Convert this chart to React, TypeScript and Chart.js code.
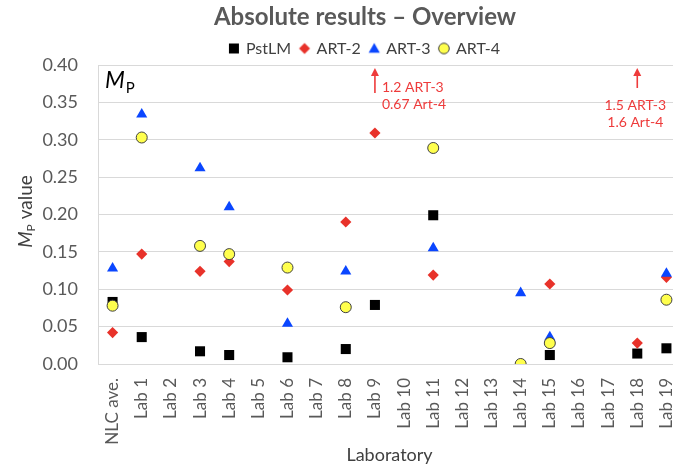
import React, { useEffect, useRef } from 'react';
import { Chart, registerables } from 'chart.js';

Chart.register(...registerables);

const FONT = 'Lato, "Open Sans", sans-serif';

const titleText = 'Absolute results – Overview';
const xTitle = 'Laboratory';
const yTitleParts = ['M', 'P', ' value'];
const cornerLabelParts = ['M', 'P'];

const categories = [
  'NLC ave.', 'Lab 1', 'Lab 2', 'Lab 3', 'Lab 4', 'Lab 5', 'Lab 6', 'Lab 7', 'Lab 8', 'Lab 9',
  'Lab 10', 'Lab 11', 'Lab 12', 'Lab 13', 'Lab 14', 'Lab 15', 'Lab 16', 'Lab 17', 'Lab 18', 'Lab 19',
];

const seriesNames = ['PstLM', 'ART-2', 'ART-3', 'ART-4'];

const pstlm = [0.083, 0.036, null, 0.017, 0.012, null, 0.009, null, 0.020, 0.079, null, 0.199, null, null, null, 0.012, null, null, 0.014, 0.021];
const art2 = [0.042, 0.147, null, 0.124, 0.137, null, 0.099, null, 0.190, 0.309, null, 0.119, null, null, null, 0.107, null, null, 0.028, 0.116];
const art3 = [0.128, 0.334, null, 0.262, 0.210, null, 0.054, null, 0.124, 1.2, null, 0.155, null, null, 0.095, 0.036, null, null, 1.5, 0.121];
const art4 = [0.078, 0.303, null, 0.158, 0.147, null, 0.129, null, 0.076, 0.67, null, 0.289, null, null, 0.0, 0.028, null, null, 1.6, 0.086];

const yTicks = [0, 0.05, 0.1, 0.15, 0.2, 0.25, 0.3, 0.35, 0.4];

const annotCategories = ['Lab 9', 'Lab 18'];
const annotLines = [
  ['1.2 ART-3', '0.67 Art-4'],
  ['1.5 ART-3', '1.6 Art-4'],
];

const RED = '#E8322A';
const BLUE = '#0A46FF';
const YELLOW = '#FFFF4D';
const ANNOT = '#EE3B3B';

function makeMarker(kind: string): HTMLCanvasElement {
  const c = document.createElement('canvas');
  c.width = 14;
  c.height = 14;
  const g = c.getContext('2d')!;
  const cx = 7, cy = 7;
  g.beginPath();
  if (kind === 'rect') {
    g.fillStyle = '#000';
    g.fillRect(2, 2, 10, 10);
  } else if (kind === 'diamond') {
    g.fillStyle = RED;
    g.moveTo(cx, cy - 5.5); g.lineTo(cx + 5.5, cy); g.lineTo(cx, cy + 5.5); g.lineTo(cx - 5.5, cy);
    g.closePath(); g.fill();
  } else if (kind === 'triangle') {
    g.fillStyle = BLUE;
    g.moveTo(cx, cy - 5.5); g.lineTo(cx + 5.6, cy + 4.2); g.lineTo(cx - 5.6, cy + 4.2);
    g.closePath(); g.fill();
  } else {
    g.fillStyle = YELLOW;
    g.strokeStyle = '#404040';
    g.lineWidth = 1;
    g.arc(cx, cy, 5.3, 0, Math.PI * 2);
    g.fill(); g.stroke();
  }
  return c;
}

const legendNudge = {
  id: 'legendNudge',
  afterLayout(chart: any) {
    if (chart.legend) {
      chart.legend.top += 1.5;
      chart.legend.bottom += 1.5;
    }
  },
};

const extraText = {
  id: 'extraText',
  afterDraw(chart: any) {
    const { ctx, chartArea, scales } = chart;
    ctx.save();
    // y-axis title, rotated
    const midY = (chartArea.top + chartArea.bottom) / 2 - 3;
    ctx.translate(32, midY);
    ctx.rotate(-Math.PI / 2);
    ctx.textBaseline = 'alphabetic';
    ctx.textAlign = 'left';
    ctx.fillStyle = '#404040';
    const fM = `italic 19px ${FONT}`;
    const fP = `12px ${FONT}`;
    const fV = `19px ${FONT}`;
    ctx.font = fM; const wM = ctx.measureText(yTitleParts[0]).width;
    ctx.font = fP; const wP = ctx.measureText(yTitleParts[1]).width;
    ctx.font = fV; const wV = ctx.measureText(yTitleParts[2]).width;
    let x0 = -(wM + wP + wV) / 2;
    ctx.font = fM; ctx.fillText(yTitleParts[0], x0, 0); x0 += wM;
    ctx.font = fP; ctx.fillText(yTitleParts[1], x0, 3); x0 += wP;
    ctx.font = fV; ctx.fillText(yTitleParts[2], x0, 0);
    ctx.restore();

    // corner label
    ctx.save();
    ctx.fillStyle = '#000';
    ctx.textBaseline = 'alphabetic';
    ctx.textAlign = 'left';
    ctx.font = `italic 23px ${FONT}`;
    const cx = chartArea.left + 7;
    ctx.fillText(cornerLabelParts[0], cx, chartArea.top + 23);
    const wm = ctx.measureText(cornerLabelParts[0]).width;
    ctx.font = `15px ${FONT}`;
    ctx.fillText(cornerLabelParts[1], cx + wm + 1, chartArea.top + 28);
    ctx.restore();

    // off-scale annotations
    annotCategories.forEach((cat, i) => {
      const x = scales.x.getPixelForValue(categories.indexOf(cat));
      const right = i === 0;
      const arrowTop = chartArea.top + 3;
      const arrowBottom = right ? chartArea.top + 28 : chartArea.top + 23;
      ctx.save();
      ctx.strokeStyle = ANNOT;
      ctx.fillStyle = ANNOT;
      ctx.lineWidth = 1.6;
      ctx.beginPath();
      ctx.moveTo(x, arrowBottom);
      ctx.lineTo(x, arrowTop + 5);
      ctx.stroke();
      ctx.beginPath();
      ctx.moveTo(x, arrowTop);
      ctx.lineTo(x + 4, arrowTop + 8);
      ctx.lineTo(x - 4, arrowTop + 8);
      ctx.closePath();
      ctx.fill();
      ctx.font = `14px ${FONT}`;
      ctx.textBaseline = 'middle';
      const lines = annotLines[i];
      lines.forEach((ln, k) => {
        if (right) {
          ctx.textAlign = 'left';
          ctx.fillText(ln, x + 7, chartArea.top + 22 + k * 17.5);
        } else {
          ctx.textAlign = 'center';
          ctx.fillText(ln, x - 2, chartArea.top + 40 + k * 17.5);
        }
      });
      ctx.restore();
    });
  },
};

export default function App() {
  const ref = useRef<HTMLCanvasElement | null>(null);

  useEffect(() => {
    const canvas = ref.current;
    if (!canvas) return;
    const markers = [makeMarker('rect'), makeMarker('diamond'), makeMarker('triangle'), makeMarker('circle')];
    const chart = new Chart(canvas, {
      type: 'line',
      data: {
        labels: categories,
        datasets: [
          {
            label: seriesNames[0], data: pstlm, showLine: false, order: 4,
            pointStyle: 'rect', pointRadius: 7.1, pointHoverRadius: 7.1,
            backgroundColor: '#000000', borderColor: '#000000', borderWidth: 0,
          },
          {
            label: seriesNames[1], data: art2, showLine: false, order: 3,
            pointStyle: 'rectRot', pointRadius: 5.6, pointHoverRadius: 5.6,
            backgroundColor: RED, borderColor: RED, borderWidth: 0,
          },
          {
            label: seriesNames[2], data: art3, showLine: false, order: 2,
            pointStyle: 'triangle', pointRadius: 6.4, pointHoverRadius: 6.4,
            backgroundColor: BLUE, borderColor: BLUE, borderWidth: 0,
          },
          {
            label: seriesNames[3], data: art4, showLine: false, order: 1,
            pointStyle: 'circle', pointRadius: 5.5, pointHoverRadius: 5.5,
            backgroundColor: YELLOW, borderColor: '#404040', borderWidth: 1,
          },
        ],
      },
      options: {
        responsive: false,
        animation: false,
        events: [],
        layout: { padding: 0 },
        plugins: {
          title: {
            display: true,
            text: titleText,
            color: '#595959',
            font: { family: FONT, size: 24, weight: 'bold', lineHeight: 1 },
            padding: { top: 5.5, bottom: 0 },
          },
          legend: {
            display: true,
            position: 'top',
            labels: {
              usePointStyle: true,
              boxWidth: 8,
              boxHeight: 10,
              padding: 9.5,
              color: '#404040',
              font: { family: FONT, size: 16 },
              sort: (a: any, b: any) => a.datasetIndex - b.datasetIndex,
              generateLabels: (ch: any) => {
                const items = Chart.defaults.plugins.legend.labels.generateLabels(ch);
                items.forEach((it: any) => { it.pointStyle = markers[it.datasetIndex]; });
                return items;
              },
            },
          },
          tooltip: { enabled: false },
        },
        scales: {
          x: {
            type: 'category',
            offset: true,
            grid: { display: false, drawTicks: false },
            border: { display: true, color: '#D9D9D9' },
            ticks: {
              autoSkip: false,
              minRotation: 90,
              maxRotation: 90,
              padding: 14,
              color: '#595959',
              font: { family: FONT, size: 17 },
            },
            title: {
              display: true,
              text: xTitle,
              color: '#404040',
              font: { family: FONT, size: 18 },
              padding: { top: 0, bottom: 3 },
            },
            afterFit: (s: any) => { s.height = 105; },
          },
          y: {
            min: 0,
            max: 0.4,
            grid: { color: '#D9D9D9', drawTicks: false },
            border: { display: true, color: '#D9D9D9' },
            afterBuildTicks: (s: any) => { s.ticks = yTicks.map((v) => ({ value: v })); },
            ticks: {
              padding: 20,
              color: '#595959',
              font: { family: FONT, size: 18 },
              callback: (v: any) => Number(v).toFixed(2),
            },
            afterFit: (s: any) => { s.width = 98; },
          },
          yRightSpace: {
            type: 'linear',
            position: 'right',
            display: true,
            grid: { display: false, drawTicks: false },
            border: { display: false },
            ticks: { display: false },
            afterFit: (s: any) => { s.width = 49; },
          },
        },
      },
      plugins: [legendNudge, extraText],
    } as any);
    return () => chart.destroy();
  }, []);

  return (
    <div style={{ position: 'fixed', left: 0, top: 0, width: 673, height: 469, overflow: 'hidden', background: '#fff' }}>
      <canvas ref={ref} width={730} height={469} style={{ display: 'block', width: 730, height: 469 }} />
    </div>
  );
}
